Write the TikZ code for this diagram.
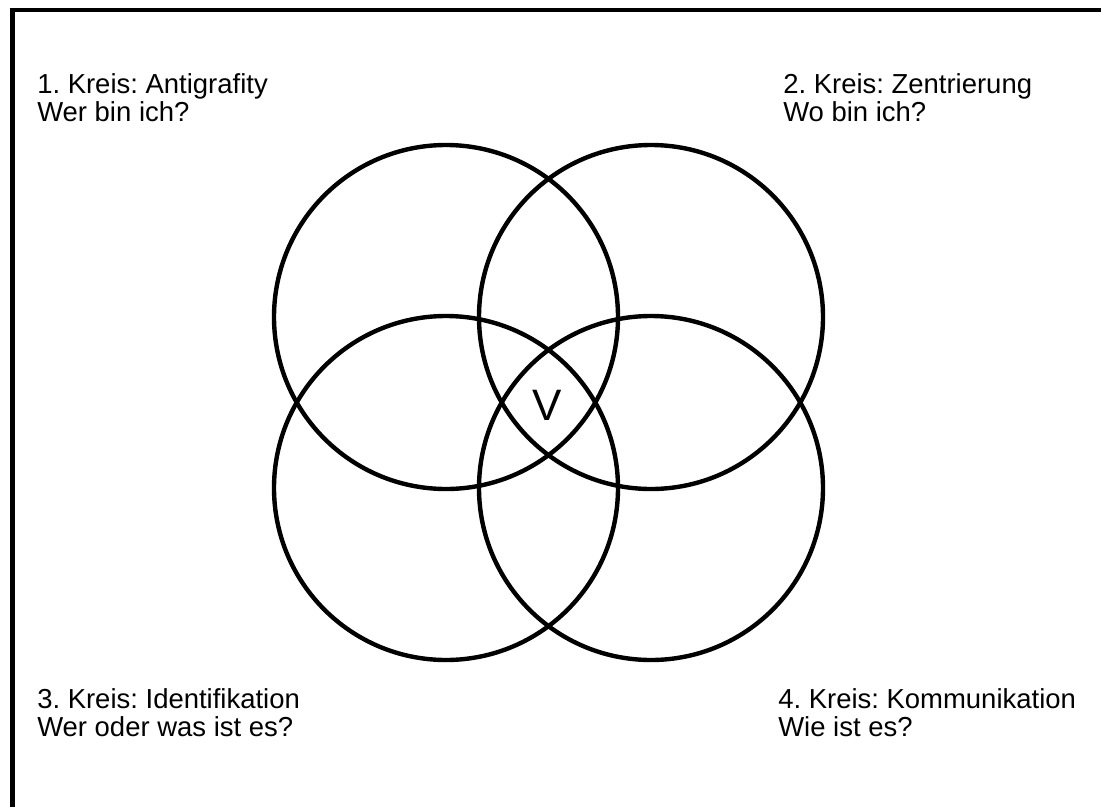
\documentclass[tikz,border=0pt]{standalone}
\usepackage{fontspec}
\setmainfont{Liberation Sans}
\usepackage{tikz}
\usetikzlibrary{positioning}
\frenchspacing

\begin{document}
\begin{tikzpicture}[x=0.75pt,y=-0.75pt,
  kreis/.style={draw=black,line width=3.3pt},
  frage/.style={anchor=north west,align=left,inner sep=0pt,font=\fontsize{20.6}{21}\selectfont}]
  \useasboundingbox (0,0) rectangle (1101,807);
  \clip (0,0) rectangle (1101,807);
  % Rahmen (rechts und unten abgeschnitten)
  \draw[line width=3.5pt] (12.5,10) rectangle (1130,840);
  % Mittelpunkte der vier Kreise
  \coordinate (k1) at (446,317);
  \coordinate (k2) at (651,317);
  \coordinate (k3) at (446,488);
  \coordinate (k4) at (651,488);
  \foreach \k in {k1,k2,k3,k4} {
    \draw[kreis] (\k) circle[radius=129pt];
  }
  \node[anchor=base,inner sep=0pt,font=\fontsize{33}{33}\selectfont] (v) at (547,420) {V};
  % Beschriftungen
  \node[frage] (antigrafity) at (37,73) {1. Kreis: Antigrafity\\Wer bin ich?};
  \node[frage] (zentrierung) at (783,73) {2. Kreis: Zentrierung\\Wo bin ich?};
  \node[frage] (identifikation) at (37,688) {3. Kreis: Identifikation\\Wer oder was ist es?};
  \node[frage] (kommunikation) at (778,688) {4. Kreis: Kommunikation\\Wie ist es?};
\end{tikzpicture}
\end{document}
